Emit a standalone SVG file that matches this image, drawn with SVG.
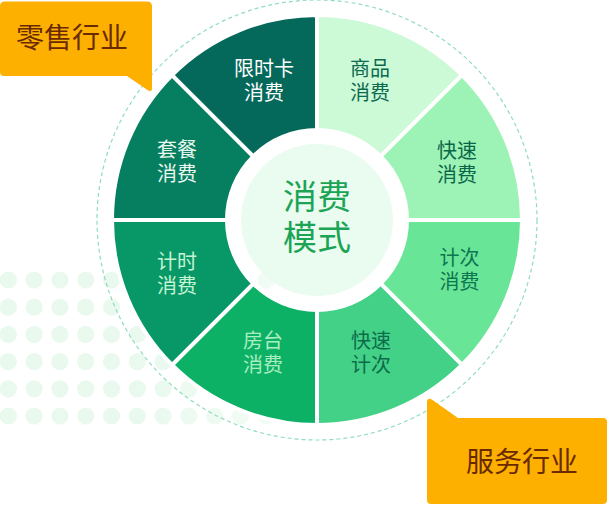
<svg xmlns="http://www.w3.org/2000/svg" width="608" height="505" viewBox="0 0 608 505">
<defs>
<linearGradient id="dotfade" gradientUnits="userSpaceOnUse" x1="0" y1="0" x2="300" y2="0">
<stop offset="0.45" stop-color="#e9f9ee"/>
<stop offset="1" stop-color="#f3fcf6"/>
</linearGradient>
<pattern id="dots" patternUnits="userSpaceOnUse" x="-4.6" y="266.4" width="25.8" height="27.2">
<circle cx="12.9" cy="13.6" r="8.6" fill="#e9f9ee"/>
</pattern>
</defs>
<style>
.seg{stroke:#ffffff;stroke-width:4;stroke-linejoin:miter}
.t{font-family:"Noto Sans CJK SC","Noto Sans",sans-serif;font-size:20px;text-anchor:middle}
.c{font-family:"Noto Sans CJK SC","Noto Sans",sans-serif;font-size:34px;text-anchor:middle;fill:#1ba454}
.lbl{font-family:"Noto Sans CJK SC","Noto Sans",sans-serif;font-size:28px;text-anchor:middle;fill:#6a2a00}
.box{fill:#fdb000}
</style>
<rect width="608" height="505" fill="#ffffff"/>
<g id="dot-grid" fill="url(#dotfade)">
<circle cx="8.3" cy="280" r="8.6"/><circle cx="34.1" cy="280" r="8.6"/><circle cx="59.9" cy="280" r="8.6"/><circle cx="85.7" cy="280" r="8.6"/><circle cx="111.5" cy="280" r="8.6"/><circle cx="137.3" cy="280" r="8.6"/><circle cx="163.1" cy="280" r="8.6"/><circle cx="188.9" cy="280" r="8.6"/><circle cx="214.7" cy="280" r="8.6"/><circle cx="240.5" cy="280" r="8.6"/><circle cx="266.3" cy="280" r="8.6"/>
<circle cx="8.3" cy="307.2" r="8.6"/><circle cx="34.1" cy="307.2" r="8.6"/><circle cx="59.9" cy="307.2" r="8.6"/><circle cx="85.7" cy="307.2" r="8.6"/><circle cx="111.5" cy="307.2" r="8.6"/><circle cx="137.3" cy="307.2" r="8.6"/><circle cx="163.1" cy="307.2" r="8.6"/><circle cx="188.9" cy="307.2" r="8.6"/><circle cx="214.7" cy="307.2" r="8.6"/><circle cx="240.5" cy="307.2" r="8.6"/><circle cx="266.3" cy="307.2" r="8.6"/>
<circle cx="8.3" cy="334.4" r="8.6"/><circle cx="34.1" cy="334.4" r="8.6"/><circle cx="59.9" cy="334.4" r="8.6"/><circle cx="85.7" cy="334.4" r="8.6"/><circle cx="111.5" cy="334.4" r="8.6"/><circle cx="137.3" cy="334.4" r="8.6"/><circle cx="163.1" cy="334.4" r="8.6"/><circle cx="188.9" cy="334.4" r="8.6"/><circle cx="214.7" cy="334.4" r="8.6"/><circle cx="240.5" cy="334.4" r="8.6"/><circle cx="266.3" cy="334.4" r="8.6"/>
<circle cx="8.3" cy="361.6" r="8.6"/><circle cx="34.1" cy="361.6" r="8.6"/><circle cx="59.9" cy="361.6" r="8.6"/><circle cx="85.7" cy="361.6" r="8.6"/><circle cx="111.5" cy="361.6" r="8.6"/><circle cx="137.3" cy="361.6" r="8.6"/><circle cx="163.1" cy="361.6" r="8.6"/><circle cx="188.9" cy="361.6" r="8.6"/><circle cx="214.7" cy="361.6" r="8.6"/><circle cx="240.5" cy="361.6" r="8.6"/><circle cx="266.3" cy="361.6" r="8.6"/>
<circle cx="8.3" cy="388.8" r="8.6"/><circle cx="34.1" cy="388.8" r="8.6"/><circle cx="59.9" cy="388.8" r="8.6"/><circle cx="85.7" cy="388.8" r="8.6"/><circle cx="111.5" cy="388.8" r="8.6"/><circle cx="137.3" cy="388.8" r="8.6"/><circle cx="163.1" cy="388.8" r="8.6"/><circle cx="188.9" cy="388.8" r="8.6"/><circle cx="214.7" cy="388.8" r="8.6"/><circle cx="240.5" cy="388.8" r="8.6"/><circle cx="266.3" cy="388.8" r="8.6"/>
<circle cx="8.3" cy="416" r="8.6"/><circle cx="34.1" cy="416" r="8.6"/><circle cx="59.9" cy="416" r="8.6"/><circle cx="85.7" cy="416" r="8.6"/><circle cx="111.5" cy="416" r="8.6"/><circle cx="137.3" cy="416" r="8.6"/><circle cx="163.1" cy="416" r="8.6"/><circle cx="188.9" cy="416" r="8.6"/><circle cx="214.7" cy="416" r="8.6"/><circle cx="240.5" cy="416" r="8.6"/><circle cx="266.3" cy="416" r="8.6"/>
</g>
<circle id="dashed-ring" cx="317" cy="220" r="220" fill="none" stroke="#8fdcc0" stroke-width="1.2" stroke-dasharray="4 3"/>
<g id="connectors"/>
<g id="seg-shangpin">
<path class="seg" fill="#ccf9d6" d="M317,15 A205,205 0 0 1 461.96,75.04 L380.64,156.36 A90,90 0 0 0 317,130 Z"/>
<text class="t" fill="#0c6a50"><tspan x="370" y="75.5">商品</tspan><tspan x="370" y="99.5">消费</tspan></text>
</g>
<g id="seg-kuaisu-xiaofei">
<path class="seg" fill="#9cf3b5" d="M461.96,75.04 A205,205 0 0 1 522,220 L407,220 A90,90 0 0 0 380.64,156.36 Z"/>
<text class="t" fill="#0b6648"><tspan x="457" y="157.5">快速</tspan><tspan x="457" y="181.5">消费</tspan></text>
</g>
<g id="seg-jici-xiaofei">
<path class="seg" fill="#68e596" d="M522,220 A205,205 0 0 1 461.96,364.96 L380.64,283.64 A90,90 0 0 0 407,220 Z"/>
<text class="t" fill="#0d7550"><tspan x="459.5" y="265">计次</tspan><tspan x="459.5" y="289">消费</tspan></text>
</g>
<g id="seg-kuaisu-jici">
<path class="seg" fill="#43d087" d="M461.96,364.96 A205,205 0 0 1 317,425 L317,310 A90,90 0 0 0 380.64,283.64 Z"/>
<text class="t" fill="#0c6c4a"><tspan x="371" y="348">快速</tspan><tspan x="371" y="372">计次</tspan></text>
</g>
<g id="seg-fangtai">
<path class="seg" fill="#0db166" d="M317,425 A205,205 0 0 1 172.04,364.96 L253.36,283.64 A90,90 0 0 0 317,310 Z"/>
<text class="t" fill="#a9edc0"><tspan x="263" y="348">房台</tspan><tspan x="263" y="372">消费</tspan></text>
</g>
<g id="seg-jishi">
<path class="seg" fill="#089868" d="M172.04,364.96 A205,205 0 0 1 112,220 L227,220 A90,90 0 0 0 253.36,283.64 Z"/>
<text class="t" fill="#c6f4d3"><tspan x="177" y="269">计时</tspan><tspan x="177" y="293">消费</tspan></text>
</g>
<g id="seg-taocan">
<path class="seg" fill="#067f60" d="M112,220 A205,205 0 0 1 172.04,75.04 L253.36,156.36 A90,90 0 0 0 227,220 Z"/>
<text class="t" fill="#eaf7ef"><tspan x="177" y="156.5">套餐</tspan><tspan x="177" y="180.5">消费</tspan></text>
</g>
<g id="seg-xianshika">
<path class="seg" fill="#04685a" d="M172.04,75.04 A205,205 0 0 1 317,15 L317,130 A90,90 0 0 0 253.36,156.36 Z"/>
<text class="t" fill="#ffffff"><tspan x="264" y="75.5">限时卡</tspan><tspan x="264" y="99.5">消费</tspan></text>
</g>
<g id="center">
<circle cx="317" cy="220" r="76" fill="#eafbf0"/>
<text class="c"><tspan x="317" y="208.5">消费</tspan><tspan x="317" y="249.5">模式</tspan></text>
</g>
<g id="label-retail">
<path class="box" d="M0,6 Q0,1.5 5,1.5 L147,1.5 Q152,1.5 152,6.5 L152,88 Q152,93 147.5,90 L127,76 L4,76 Q0,76 0,72 Z"/>
<text class="lbl" x="72" y="47.5">零售行业</text>
</g>
<g id="label-service">
<path class="box" d="M427,403 Q427,396.5 432.5,400 L458,418 L603,418 Q607,418 607,422 L607,500 Q607,504 603,504 L431,504 Q427,504 427,500 Z"/>
<text class="lbl" x="522" y="471.5">服务行业</text>
</g>
</svg>
